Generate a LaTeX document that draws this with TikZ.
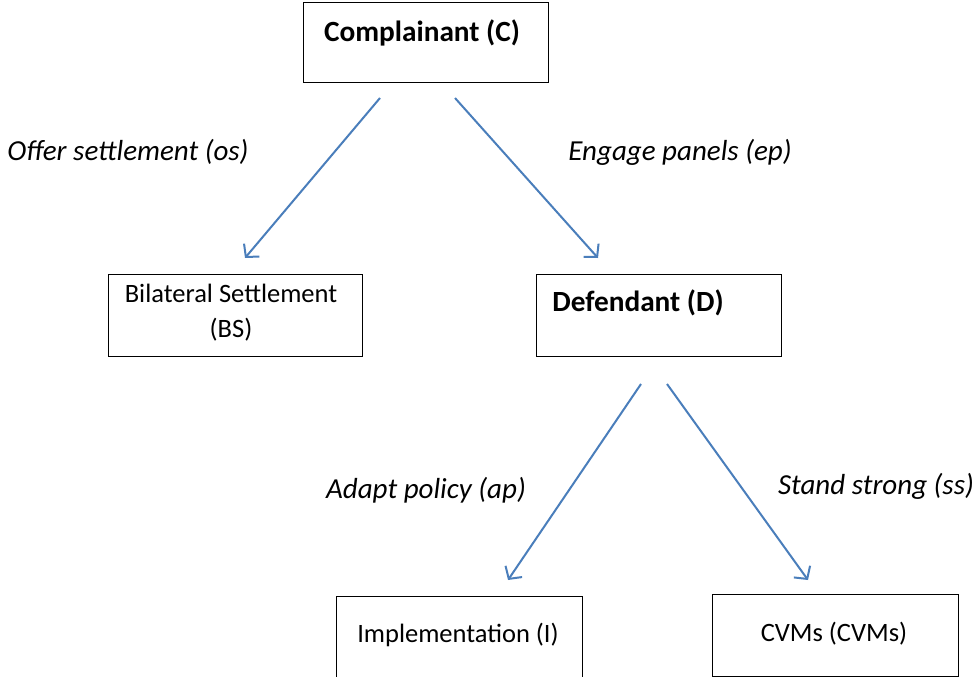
\documentclass[tikz,border=0pt]{standalone}
\usepackage{fontspec}
\setmainfont{Carlito}
\usetikzlibrary{arrows.meta}
\definecolor{arrowblue}{HTML}{4A7EBB}
\tikzset{
  box/.style={draw=black, line width=1pt, inner sep=0pt},
  txt/.style={inner sep=0pt, font=\fontsize{26.5}{30}\selectfont},
  btxt/.style={inner sep=0pt, font=\fontsize{29.3}{34}\selectfont\bfseries},
  lbl/.style={inner sep=0pt, font=\fontsize{29}{34}\selectfont\itshape},
  conn/.style={draw=arrowblue, line width=2pt, -{Straight Barb[length=9pt,width=20pt,line width=2pt]}}
}
\begin{document}
\begin{tikzpicture}[x=1pt,y=-1pt]
\useasboundingbox (0,0) rectangle (975,677);
% boxes
\node[box, minimum width=245pt, minimum height=80pt] (c) at (425.5,43) {};
\node[box, minimum width=254pt, minimum height=82pt] (bs) at (235,315) {};
\node[box, minimum width=245pt, minimum height=82pt] (d) at (658.5,315) {};
\node[box, minimum width=246pt, minimum height=90pt] (i) at (459,641) {};
\node[box, minimum width=246pt, minimum height=82pt] (v) at (835,635.5) {};
% texts
\node[btxt] (ct) at (422,33) {Complainant (C)};
\node[txt] (bst1) at (231,293) {Bilateral Settlement};
\node[txt] (bst2) at (231,330) {(BS)};
\node[btxt] (dt) at (638,303) {Defendant (D)};
\node[txt] (it) at (458,635) {Implementation (I)};
\node[txt] (vt) at (834,634) {CVMs (CVMs)};
% labels
\node[lbl] (los) at (128,152) {Offer settlement (os)};
\node[lbl] (lep) at (680,152) {Engage panels (ep)};
\node[lbl] (lap) at (426,490) {Adapt policy (ap)};
\node[lbl] (lss) at (876,486) {Stand strong (ss)};
% connector ends
\coordinate (c1) at (380,98);
\coordinate (c2) at (455,98);
\coordinate (bsin) at (245,258);
\coordinate (din) at (598,258);
\coordinate (d1) at (641,384);
\coordinate (d2) at (667,384);
\coordinate (iin) at (508,580);
\coordinate (vin) at (808,580);
\draw[conn] (c1) -- (bsin);
\draw[conn] (c2) -- (din);
\draw[conn] (d1) -- (iin);
\draw[conn] (d2) -- (vin);
\end{tikzpicture}
\end{document}
